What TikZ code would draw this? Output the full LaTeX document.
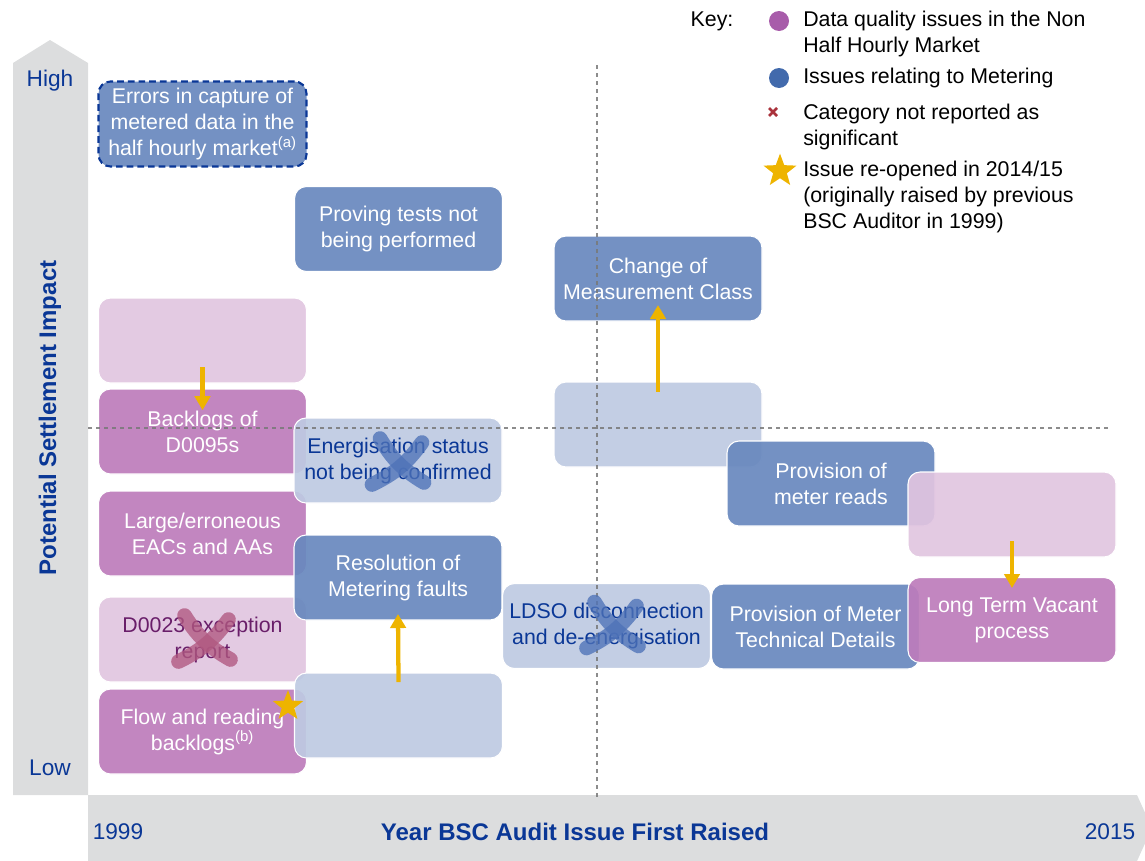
\documentclass[tikz,border=0pt]{standalone}
\usepackage{fontspec}
\setmainfont{Liberation Sans}
\usetikzlibrary{arrows.meta,
                calc,
                shapes.geometric}

\definecolor{navy}{RGB}{10,55,150}
\definecolor{axisgray}{RGB}{220,221,222}
\definecolor{guidegray}{RGB}{120,120,120}
\definecolor{meterblue}{RGB}{104,136,190}
\definecolor{meterlight}{RGB}{190,202,226}
\definecolor{nhhpurple}{RGB}{189,124,187}
\definecolor{nhhlight}{RGB}{225,197,224}
\definecolor{keypurple}{RGB}{168,92,170}
\definecolor{keyblue}{RGB}{66,106,172}
\definecolor{keyred}{RGB}{170,50,60}
\definecolor{gold}{RGB}{238,180,0}
\definecolor{xblue}{RGB}{78,114,184}
\definecolor{xred}{RGB}{176,88,128}
\definecolor{darkplum}{RGB}{105,30,105}

\begin{document}
\begin{tikzpicture}[
x = 0.75pt, y = -0.75pt,
            > = {Triangle[width=11.5pt,length=10.5pt]},
every node/.style = {font=\fontsize{16}{19.5}\selectfont},
     box/.style = {rounded corners=9pt, minimum width=156pt, minimum height=63.75pt,
                   inner sep=2pt, align=center, draw=white, line width=0.8pt,
                   fill opacity=.92, text opacity=1},
   meter/.style = {box, fill=meterblue, text=white},
 meterlt/.style = {box, fill=meterlight, text=navy},
     nhh/.style = {box, fill=nhhpurple, text=white},
   nhhlt/.style = {box, fill=nhhlight, text=darkplum},
     arr/.style = {->, draw=gold, line width=3.2pt},
 xstroke/.style = {line width=11pt, line cap=round, opacity=.78},
   guide/.style = {draw=guidegray, dashed, line width=0.8pt, opacity=.85},
    axis/.style = {text=navy, font=\fontsize{17}{20}\selectfont},
   title/.style = {text=navy, font=\fontsize{18}{21}\selectfont\bfseries},
 keytext/.style = {anchor=west, align=left, inner sep=0pt},
  award/.style = {star, star points=5, star point ratio=2.4, fill=gold, inner sep=0pt}
                    ]
\useasboundingbox (0,0) rectangle (1145,860);
% axes
\fill[axisgray] (13,63) -- (50,40) -- (88,63) -- (88,795) -- (13,795) -- cycle;
\fill[axisgray] (88,795) -- (1137,795) -- (1152,828) -- (1137,861) -- (88,861) -- cycle;
\node[axis] (high) at (50,81)  {High};
\node[axis] (low)  at (50,768) {Low};
\node[title, rotate=90] (impact) at (50,418) {Potential Settlement Impact};
\node[axis]  (y1999) at (118,832) {1999};
\node[title] (year)  at (575,832) {Year BSC Audit Issue First Raised};
\node[axis]  (y2015) at (1110,832) {2015};
% left column
\node[nhhlt] (backold) at (202.5,340.5) {};
\node[nhh]   (backlog) at (202.5,431.5) {Backlogs of\\D0095s};
\node[nhh]   (eacs)    at (202.5,533.5) {Large/erroneous\\EACs and AAs};
\node[nhhlt] (d0023)   at (202.5,639.5) {D0023 exception\\report};
\node[nhh]   (flow)    at (202.5,731.5) {Flow and reading\\backlogs\textsuperscript{(b)}};
\node[meter, draw=navy, dashed, line width=1.6pt,
      dash pattern=on 5pt off 3pt] (errors) at (202.5,124) {Errors in capture of\\metered data in the\\half hourly market\textsuperscript{(a)}};
% middle columns
\node[meter]   (proving) at (398.5,229)   {Proving tests not\\being performed};
\node[meterlt] (ener)    at (398,460.5)   {Energisation status\\not being confirmed};
\node[meter]   (faults)  at (398,577.5)   {Resolution of\\Metering faults};
\node[meterlt] (faultold) at (398.5,715.5) {};
\node[meter]   (mclass)  at (658,278.5)   {Change of\\Measurement Class};
\node[meterlt] (mclassold) at (658,424.5) {};
\node[meterlt] (ldso)    at (606.5,626)   {LDSO disconnection\\and de-energisation};
% right columns
\node[meter] (reads)   at (831,483.5)   {Provision of\\meter reads};
\node[meter] (mtd)     at (815.5,626.5) {Provision of Meter\\Technical Details};
\node[nhhlt] (vacold)  at (1012,514.5)  {};
\node[nhh]   (vacant)  at (1012,620)    {Long Term Vacant\\process};
% guides
\draw[guide] (597,65) -- (597,797);
\draw[guide] (88,428) -- (1110,428);
% not significant
\draw[xstroke, xblue] ($(ener.center)+(-18,-22)$) to[bend right=14] ($(ener.center)+(26,22)$);
\draw[xstroke, xblue] ($(ener.center)+(24,-18)$)  to[bend left=14]  ($(ener.center)+(-26,24)$);
\draw[xstroke, xblue] ($(ldso.center)+(-12,-24)$) to[bend right=14] ($(ldso.center)+(32,20)$);
\draw[xstroke, xblue] ($(ldso.center)+(30,-20)$)  to[bend left=14]  ($(ldso.center)+(-20,22)$);
\draw[xstroke, xred]  ($(d0023.center)+(-18,-24)$) to[bend right=14] ($(d0023.center)+(28,20)$);
\draw[xstroke, xred]  ($(d0023.center)+(26,-20)$)  to[bend left=14]  ($(d0023.center)+(-24,22)$);
% moves
\draw[arr] ([yshift=-20pt]backold.center) -- ([yshift=16pt]backlog.center);
\draw[arr] ([yshift=24.4pt]mclassold.center) -- ([yshift=-19.9pt]mclass.center);
\draw[arr] ([yshift=25pt]faultold.center) -- ([yshift=-27.4pt]faults.center);
\draw[arr] ([yshift=-20pt]vacold.center) -- ([yshift=24pt]vacant.center);
\node[award, minimum size=24pt] (reopen) at (288,706) {};
% key
\node (key) at (712,21) {Key:};
\node[circle, fill=keypurple, minimum size=15pt, inner sep=0pt] (kpurple) at (779,21) {};
\node[keytext] (kpurpletext) at (803,34) {Data quality issues in the Non\\Half Hourly Market};
\node[circle, fill=keyblue, minimum size=15pt, inner sep=0pt] (kblue) at (779,78) {};
\node[keytext] (kbluetext) at (803,78) {Issues relating to Metering};
\coordinate (kred) at (773,112);
\draw[keyred, line width=2pt] ($(kred)+(-4,-4)$) -- ($(kred)+(4,4)$)
                              ($(kred)+(4,-4)$) -- ($(kred)+(-4,4)$);
\node[keytext] (kredtext) at (803,127) {Category not reported as\\significant};
\node[award, minimum size=26pt] (kstar) at (780,171) {};
\node[keytext] (kstartext) at (803,197) {Issue re-opened in 2014/15\\(originally raised by previous\\BSC Auditor in 1999)};
\end{tikzpicture}
\end{document}
